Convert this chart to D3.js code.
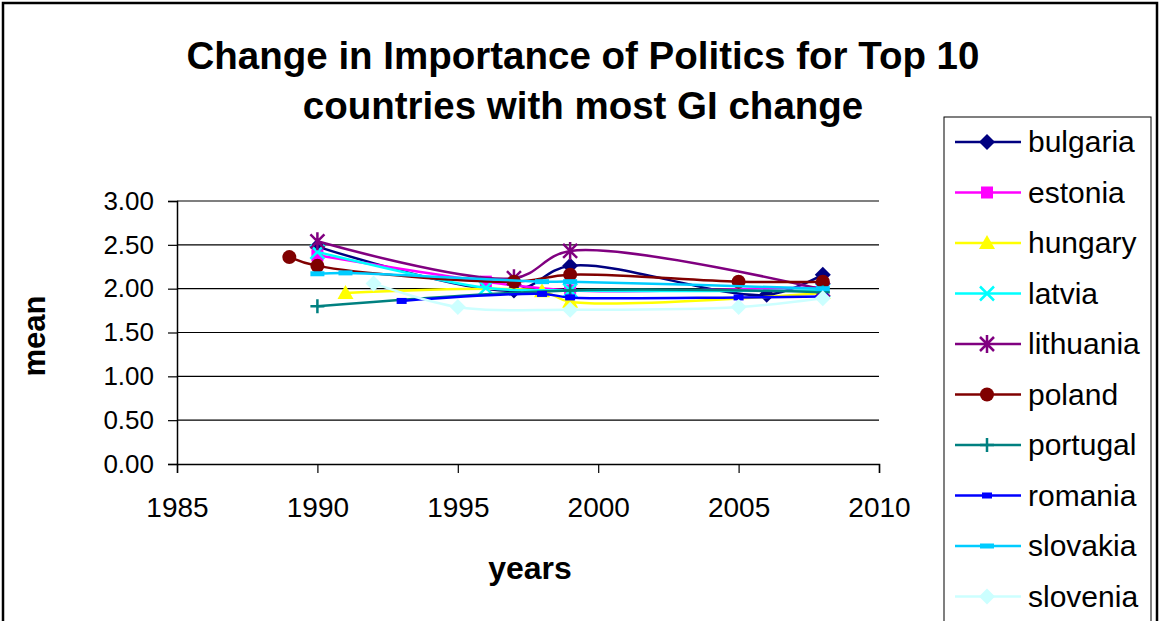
<!DOCTYPE html>
<html><head><meta charset="utf-8">
<script src="https://cdn.jsdelivr.net/npm/d3@7"></script>
<style>body{margin:0;background:#fff}svg{display:block}text{font-family:"Liberation Sans",Arial,sans-serif}</style>
</head><body>
<script>
const countries = ["bulgaria","estonia","hungary","latvia","lithuania","poland","portugal","romania","slovakia","slovenia"];
const colors = ["#000080","#FF00FF","#FFFF00","#00FFFF","#800080","#800000","#008080","#0000FF","#00CCFF","#CCFFFF"];
const markers = ["diamond","square","triangle","x","star","circle","plus","dash","longdash","diamond"];
const bulgaria  = [[1990,2.48],[1997,1.98],[1999,2.26],[2006,1.93],[2008,2.16]];
const estonia   = [[1990,2.38],[1996,2.08],[1999,1.98],[2008,2.02]];
const hungary   = [[1991,1.95],[1998,1.97],[1999,1.85],[2008,1.95]];
const latvia    = [[1990,2.42],[1996,2.01],[1999,1.98],[2008,1.98]];
const lithuania = [[1990,2.54],[1997,2.12],[1999,2.43],[2008,1.99]];
const poland    = [[1989,2.36],[1990,2.26],[1997,2.08],[1999,2.16],[2005,2.08],[2008,2.08]];
const portugal  = [[1990,1.80],[1999,1.98],[2008,1.96]];
const romania   = [[1993,1.86],[1998,1.94],[1999,1.90],[2005,1.90],[2008,1.91]];
const slovakia  = [[1990,2.17],[1991,2.18],[1998,2.08],[1999,2.08],[2008,2.00]];
const slovenia  = [[1992,2.06],[1995,1.79],[1999,1.76],[2005,1.79],[2008,1.89]];
const seriesValues = [bulgaria,estonia,hungary,latvia,lithuania,poland,portugal,romania,slovakia,slovenia];
const xTicks = [1985,1990,1995,2000,2005,2010];
const yTicks = [0,0.5,1,1.5,2,2.5,3];
const titleLines = ["Change in Importance of Politics for Top 10","countries with most GI change"];

const W=1161,H=621;
const svg=d3.select("body").append("svg").attr("width",W).attr("height",H);
svg.append("rect").attr("x",3).attr("y",3).attr("width",1154).attr("height",640).attr("fill","#fff").attr("stroke","#000").attr("stroke-width",2.5);

const x=d3.scaleLinear().domain([1985,2010]).range([177,879]);
const y=d3.scaleLinear().domain([0,3]).range([464,201]);

// gridlines
svg.append("g").selectAll("line").data(yTicks.filter(d=>d>0)).join("line")
  .attr("x1",177).attr("x2",879).attr("y1",d=>y(d)).attr("y2",d=>y(d)).attr("stroke","#000").attr("stroke-width",1.2);

const yAxis=svg.append("g").attr("transform","translate(177,0)")
  .call(d3.axisLeft(y).tickValues(yTicks).tickFormat(d3.format(".2f")).tickSize(9).tickPadding(14));
const xAxis=svg.append("g").attr("transform","translate(0,464)")
  .call(d3.axisBottom(x).tickValues(xTicks).tickFormat(d3.format("d")).tickSize(9).tickPadding(24));
[yAxis,xAxis].forEach(a=>{a.select(".domain").attr("stroke","#000").attr("stroke-width",1.5);
  a.selectAll(".tick line").attr("stroke","#000").attr("stroke-width",1.2);
  a.selectAll("text").attr("fill","#000").style("font-family","'Liberation Sans',Arial,sans-serif");});
yAxis.selectAll("text").style("font-size","26px");
xAxis.selectAll("text").style("font-size","28px");

// titles
svg.append("g").selectAll("text").data(titleLines).join("text")
  .attr("x",583).attr("y",(d,i)=>69+i*50).attr("text-anchor","middle")
  .style("font-size","38.5px").style("font-weight","bold").text(d=>d);
svg.append("text").attr("x",530).attr("y",579).attr("text-anchor","middle")
  .style("font-size","32px").style("font-weight","bold").text("years");
svg.append("text").attr("transform","translate(45,336) rotate(-90)").attr("text-anchor","middle")
  .style("font-size","31px").style("font-weight","bold").text("mean");

function drawMarker(g,type,color,cx,cy){
  const s=7;
  if(type==="diamond") g.append("path").attr("d",`M${cx},${cy-s-1}L${cx+s+1},${cy}L${cx},${cy+s+1}L${cx-s-1},${cy}Z`).attr("fill",color);
  else if(type==="square") g.append("rect").attr("x",cx-6).attr("y",cy-6).attr("width",12).attr("height",12).attr("fill",color);
  else if(type==="triangle") g.append("path").attr("d",`M${cx},${cy-8}L${cx+8},${cy+6}L${cx-8},${cy+6}Z`).attr("fill",color);
  else if(type==="circle") g.append("circle").attr("cx",cx).attr("cy",cy).attr("r",7).attr("fill",color);
  else if(type==="x") g.append("path").attr("d",`M${cx-7},${cy-7}L${cx+7},${cy+7}M${cx-7},${cy+7}L${cx+7},${cy-7}`).attr("stroke",color).attr("stroke-width",2.5);
  else if(type==="star") g.append("path").attr("d",`M${cx-7},${cy-7}L${cx+7},${cy+7}M${cx-7},${cy+7}L${cx+7},${cy-7}M${cx},${cy-9}L${cx},${cy+9}`).attr("stroke",color).attr("stroke-width",2.5);
  else if(type==="plus") g.append("path").attr("d",`M${cx-7},${cy}L${cx+7},${cy}M${cx},${cy-7}L${cx},${cy+7}`).attr("stroke",color).attr("stroke-width",2.5);
  else if(type==="dash") g.append("rect").attr("x",cx-5).attr("y",cy-3).attr("width",10).attr("height",6).attr("fill",color);
  else if(type==="longdash") g.append("rect").attr("x",cx-7).attr("y",cy-2.5).attr("width",14).attr("height",5).attr("fill",color);
}

const line=d3.line().x(d=>x(d[0])).y(d=>y(d[1])).curve(d3.curveCatmullRom.alpha(0.5));
const plot=svg.append("g");
seriesValues.forEach((vals,i)=>{
  const g=plot.append("g");
  g.append("path").datum(vals).attr("d",line).attr("fill","none").attr("stroke",colors[i]).attr("stroke-width",2.5);
  vals.forEach(d=>drawMarker(g,markers[i],colors[i],x(d[0]),y(d[1])));
});

// legend
const lg=svg.append("g");
lg.append("rect").attr("x",944).attr("y",117).attr("width",207).attr("height",530).attr("fill","#fff").attr("stroke","#000").attr("stroke-width",1);
countries.forEach((c,i)=>{
  const cy=142+i*50.5;
  lg.append("line").attr("x1",955).attr("x2",1021).attr("y1",cy).attr("y2",cy).attr("stroke",colors[i]).attr("stroke-width",2.5);
  drawMarker(lg,markers[i],colors[i],987,cy);
  lg.append("text").attr("x",1028).attr("y",cy+10).style("font-size","30px").text(c);
});
</script>
</body></html>
